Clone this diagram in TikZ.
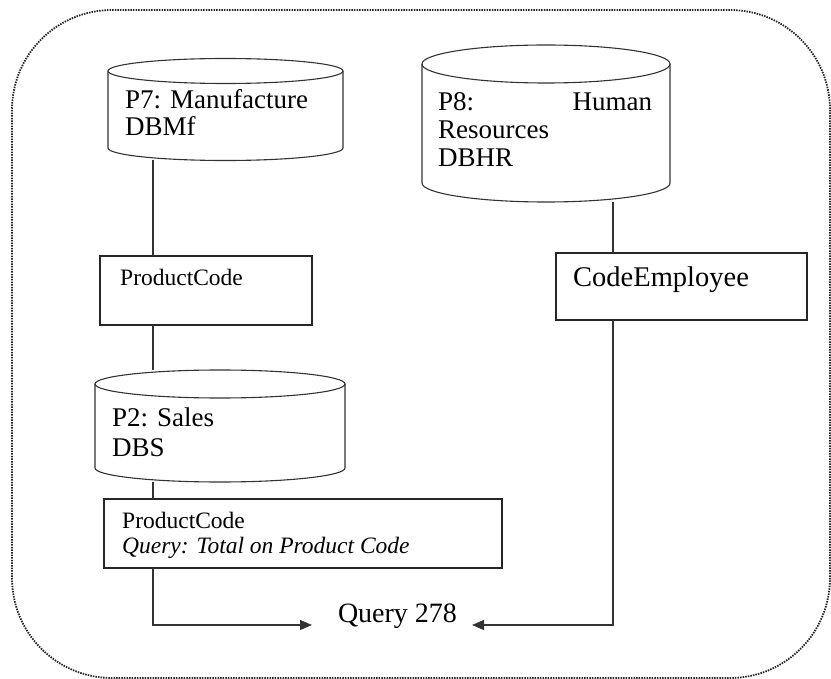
\documentclass[tikz,border=0pt]{standalone}
\usepackage{fontspec}
\setmainfont{Liberation Serif}
\usetikzlibrary{arrows.meta}
\newcommand\dbdraw[5]{%
  \pgfmathsetmacro\dbcx{(#1+#2)/2}%
  \pgfmathsetmacro\dbrx{(#2-#1)/2}%
  \path[cylfill] (#1,#3) -- (#1,#4) arc[start angle=180,end angle=0,x radius=\dbrx,y radius=#5] -- (#2,#3) arc[start angle=0,end angle=-180,x radius=\dbrx,y radius=#5] -- cycle;
  \draw[cyl] (#1,#3) -- (#1,#4) arc[start angle=180,end angle=0,x radius=\dbrx,y radius=#5] -- (#2,#3);
  \draw[cyl] (\dbcx,#3) ellipse[x radius=\dbrx,y radius=#5];
}
\begin{document}
\begin{tikzpicture}[x=1pt,y=-1pt,
  cylfill/.style={fill=white},
  cyl/.style={draw=black!80, line width=1.1pt},
  frame/.style={draw=black!85, line width=1.8pt, dash pattern=on 1.5pt off 1.1pt, rounded corners=100pt},
  ghost/.style={inner sep=0pt, outer sep=0pt, draw=none},
  box/.style={draw=black!85, line width=1.1pt, inner sep=0pt, outer sep=0pt, fill=white},
  txt/.style={inner sep=0pt, anchor=base west, align=left},
  link/.style={draw=black!80, line width=1.1pt},
  arr/.style={link, -{Triangle[length=12pt,width=10pt]}}
]
\useasboundingbox (0,0) rectangle (831,679);
\draw[frame] (12,10) rectangle (830,678);

% invisible extents of the cylinders
\node[ghost, minimum width=235pt, minimum height=102pt] (p7) at (225.5,109) {};
\node[ghost, minimum width=250pt, minimum height=112pt] (p2) at (220,426) {};
\node[ghost, minimum width=248pt, minimum height=157pt] (p8) at (546,123.5) {};

% boxes
\node[box, minimum width=212pt, minimum height=69pt] (pc1) at (206,290.5) {};
\node[box, minimum width=398pt, minimum height=69pt] (pc2) at (303,533.5) {};
\node[box, minimum width=251pt, minimum height=67pt] (ce) at (681.5,286.5) {};

% query target
\node[inner sep=0pt, anchor=base, font=\fontsize{28}{30}\selectfont] (q) at (397.5,622) {Query 278};
\coordinate (qL) at (312,625);
\coordinate (qR) at (472,625);

\coordinate (lx) at (153,0);
\coordinate (rx) at (613,0);

% connectors
\draw[link] (p7.south -| lx) -- (pc1.north -| lx);
\draw[link] (pc1.south -| lx) -- (p2.north -| lx);
\draw[link] (p2.south -| lx) -- (pc2.north -| lx);
\draw[arr] (pc2.south -| lx) |- (qL);
\draw[link] (p8.south -| rx) -- (ce.north -| rx);
\draw[arr] (ce.south -| rx) |- (qR);

% cylinders
\dbdraw{108}{343}{71}{148}{12.5}
\dbdraw{95}{345}{384}{468}{14}
\dbdraw{422}{670}{64}{183}{19}

% texts (base anchor = last line)
\node[txt, font=\fontsize{27}{27}\selectfont] (t7) at (125,136) {P7: Manufacture\\DBMf};
\node[txt, font=\fontsize{27}{29}\selectfont] (t2) at (112,456) {P2: Sales\\DBS};
\node[txt, font=\fontsize{27}{28}\selectfont] (t8) at (438,167) {\makebox[214pt][s]{P8:\hfill Human}\\Resources\\DBHR};
\node[txt, font=\fontsize{23.5}{25}\selectfont] (tpc1) at (120,286) {ProductCode};
\node[txt, font=\fontsize{23.5}{25}\selectfont] (tpc2) at (122,553) {ProductCode\\\textit{Query: Total on Product Code}};
\node[txt, font=\fontsize{28.5}{30}\selectfont] (tce) at (573,287) {CodeEmployee};
\end{tikzpicture}
\end{document}
